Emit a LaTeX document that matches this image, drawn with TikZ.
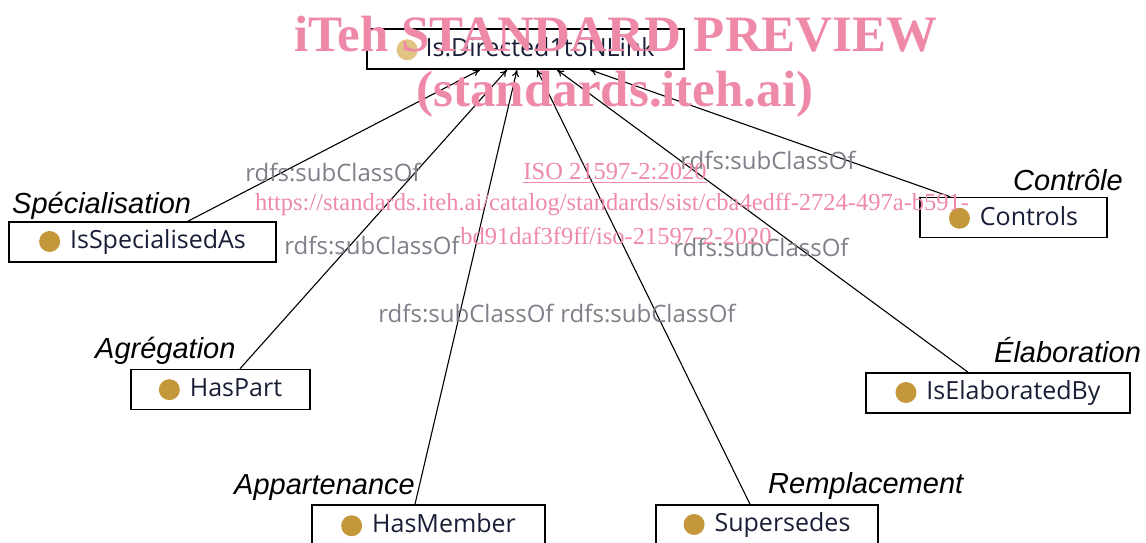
\documentclass[tikz,border=0pt]{standalone}
\usepackage{fontspec}
\setmainfont{Liberation Serif}
\newfontfamily\boxfont{Open Sans}
\newfontfamily\labfont{Liberation Sans}
\usetikzlibrary{arrows.meta,calc}
\definecolor{dotc}{RGB}{196,152,58}
\definecolor{dotlight}{RGB}{226,196,130}
\definecolor{boxtext}{RGB}{25,30,55}
\definecolor{relc}{RGB}{125,128,136}
\definecolor{wm}{RGB}{238,138,168}
\newcommand\clsdot[1]{\tikz[baseline=-7pt]\fill[#1] (0pt,0pt) circle (10.5pt);}
\tikzset{
  cls/.style={draw=black, line width=1.6pt, minimum height=40pt, inner sep=0pt,
    text=boxtext, font=\boxfont\fontsize{25}{25}\selectfont},
  role/.style={anchor=base west, inner sep=0pt, font=\labfont\itshape\fontsize{29}{29}\selectfont},
  rel/.style={inner sep=0pt, text=relc, font=\boxfont\fontsize{24}{24}\selectfont},
  arr/.style={line width=1.1pt, -{To[length=7pt,width=7pt]}},
  wmbig/.style={inner sep=0pt, text=wm, font=\bfseries\fontsize{51}{51}\selectfont},
  wmsmall/.style={inner sep=0pt, text=wm, font=\fontsize{24.5}{24.5}\selectfont}
}
\begin{document}
\begin{tikzpicture}[x=1pt,y=-1pt]
\useasboundingbox (0,0) rectangle (1146,543);
\begin{scope}
\clip (0,0) rectangle (1146,543);
% class boxes
\node[cls, minimum width=317pt] (top) at (525.5,49) {\clsdot{dotlight}\hspace{8pt}Is:Directed1toNLink};
\node[cls, minimum width=267pt] (spec) at (142.5,242) {\clsdot{dotc}\hspace{10pt}IsSpecialisedAs};
\node[cls, minimum width=187pt] (ctrl) at (1013.5,217.5) {\clsdot{dotc}\hspace{10pt}Controls};
\node[cls, minimum width=179pt] (part) at (220.5,389.5) {\clsdot{dotc}\hspace{10pt}HasPart};
\node[cls, minimum width=264pt] (elab) at (998,393) {\clsdot{dotc}\hspace{10pt}IsElaboratedBy};
\node[cls, minimum width=233pt] (memb) at (428.5,525) {\clsdot{dotc}\hspace{10pt}HasMember};
\node[cls, minimum width=222pt] (supe) at (767,525) {\clsdot{dotc}\hspace{10pt}Supersedes};
% connectors
\draw[arr] ([xshift=45.5pt]spec.north) -- ([xshift=-45.5pt]top.south);
\draw[arr] ([xshift=19.5pt]part.north) -- ([xshift=-18.5pt]top.south);
\draw[arr] ([xshift=-13.5pt]memb.north) -- ([xshift=-8.5pt]top.south);
\draw[arr] ([xshift=-17pt]supe.north) -- ([xshift=11.5pt]top.south);
\draw[arr] ([xshift=-30pt]elab.north) -- ([xshift=31.5pt]top.south);
\draw[arr] ([xshift=-63.5pt]ctrl.north) -- ([xshift=64.5pt]top.south);
% relation labels
\node[rel] (r1) at (333,172) {rdfs:subClassOf};
\node[rel] (r2) at (372,245) {rdfs:subClassOf};
\node[rel] (r3) at (466,313) {rdfs:subClassOf};
\node[rel] (r4) at (648,313) {rdfs:subClassOf};
\node[rel] (r5) at (761,247) {rdfs:subClassOf};
\node[rel] (r6) at (768,160) {rdfs:subClassOf};
% role labels
\node[role] (lspec) at (12,213) {Spécialisation};
\node[role] (lctrl) at (1013,190) {Contrôle};
\node[role] (lpart) at (95,358) {Agrégation};
\node[role] (lelab) at (994,362) {Élaboration};
\node[role] (lmemb) at (234,494) {Appartenance};
\node[role] (lsupe) at (768,493) {Remplacement};
% watermark
\node[wmbig] (w1) at (616,34) {iTeh STANDARD PREVIEW};
\node[wmbig] (w2) at (615,94) {(standards.iteh.ai)};
\node[wmsmall] (w3) at (615,173) {\underline{ISO 21597-2:2020}};
\node[wmsmall] (w4) at (612,205) {https://standards.iteh.ai/catalog/standards/sist/cba4edff-2724-497a-b591-};
\node[wmsmall] (w5) at (616,236) {bd91daf3f9ff/iso-21597-2-2020};
\end{scope}
\end{tikzpicture}
\end{document}
